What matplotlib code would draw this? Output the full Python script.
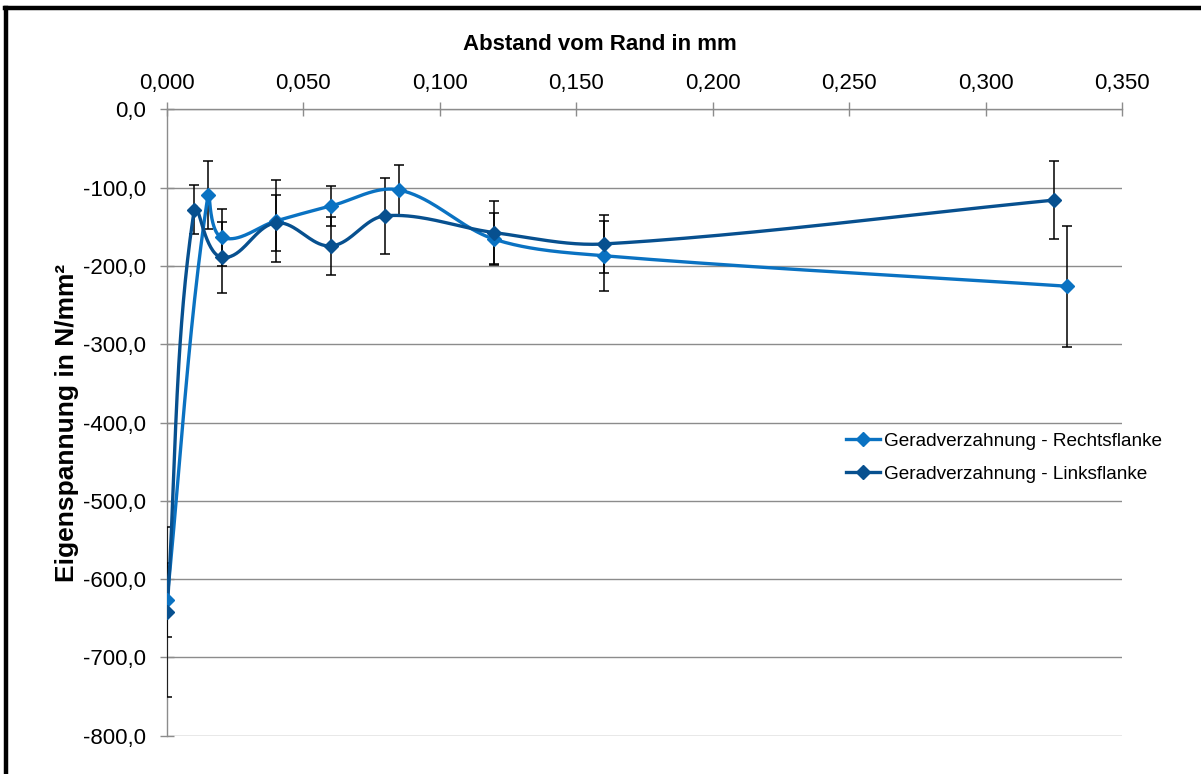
import numpy as np
import matplotlib
matplotlib.use("Agg")
import matplotlib.pyplot as plt
from matplotlib.lines import Line2D
from matplotlib.ticker import FuncFormatter, MultipleLocator

plt.rcParams['font.family'] = ['Liberation Sans', 'DejaVu Sans']

# Eigenspannung ueber Randabstand, Mittelwerte mit Streuung
x_rechts = [0.000, 0.015, 0.020, 0.040, 0.060, 0.085, 0.120, 0.160, 0.330]
y_rechts = [-627.0, -110.0, -163.5, -142.5, -123.5, -103.0, -166.0, -187.0, -226.0]
err_rechts = [47.0, 43.5, 36.0, 52.0, 25.5, 32.5, 33.0, 44.5, 77.5]

x_links = [0.000, 0.010, 0.020, 0.040, 0.060, 0.080, 0.120, 0.160, 0.325]
y_links = [-642.0, -128.0, -189.0, -145.0, -174.5, -136.0, -157.5, -172.0, -116.0]
err_links = [109.0, 31.0, 45.0, 36.0, 37.5, 48.5, 40.5, 37.0, 50.0]

labels = ["Geradverzahnung - Rechtsflanke", "Geradverzahnung - Linksflanke"]
colors = ["#0A72C2", "#07508F"]

x_min, x_max = 0.0, 0.35
y_min, y_max = -800.0, 0.0


def smooth(xs, ys, sx, sy, n=40):
    # Bezier-Glaettung, Tangente ueber Nachbarpunkte, Laenge je Segment begrenzt
    P = np.column_stack([np.asarray(xs) * sx, np.asarray(ys) * sy])
    m = len(P)
    tang = np.zeros_like(P)
    for i in range(m):
        a = P[max(i - 1, 0)]
        b = P[min(i + 1, m - 1)]
        d = b - a
        tang[i] = d / np.hypot(*d)
    t = np.linspace(0, 1, n)[:, None]
    out = []
    for i in range(m - 1):
        p1, p2 = P[i], P[i + 1]
        L = np.hypot(*(p2 - p1)) / 3.0
        c1 = p1 + tang[i] * L
        c2 = p2 - tang[i + 1] * L
        seg = ((1 - t) ** 3) * p1 + 3 * ((1 - t) ** 2) * t * c1 + 3 * (1 - t) * t ** 2 * c2 + t ** 3 * p2
        out.append(seg if i == 0 else seg[1:])
    out = np.vstack(out)
    return out[:, 0] / sx, out[:, 1] / sy


fig = plt.figure(figsize=(12.01, 7.74), dpi=100)
ax = fig.add_axes([167 / 1201, 1 - 735.7 / 774, (1122 - 167) / 1201, (735.7 - 109.3) / 774])

sx = 955.0 / (x_max - x_min)
sy = 626.4 / (y_max - y_min)

series = [(x_rechts, y_rechts, err_rechts), (x_links, y_links, err_links)]
for (xs, ys, es), lab, col in zip(series, labels, colors):
    ax.errorbar(xs, ys, yerr=es, fmt='none', ecolor='black', elinewidth=1.1,
                capsize=3.5, capthick=1.1, zorder=3)
for (xs, ys, es), lab, col in zip(series, labels, colors):
    xx, yy = smooth(xs, ys, sx, sy)
    ax.plot(xx, yy, color=col, lw=2.4, zorder=4, solid_capstyle='round')
    ax.plot(xs, ys, ls='none', marker='D', ms=7.5, color=col, zorder=5)

ax.set_xlim(x_min, x_max)
ax.set_ylim(y_min, y_max)

ax.xaxis.set_major_locator(MultipleLocator(0.05))
ax.yaxis.set_major_locator(MultipleLocator(100))
ax.xaxis.set_major_formatter(FuncFormatter(lambda v, p: f"{v:.3f}".replace('.', ',')))
ax.yaxis.set_major_formatter(FuncFormatter(lambda v, p: f"{v:.1f}".replace('.', ',')))
ax.xaxis.tick_top()
ax.xaxis.set_label_position('top')

ax.grid(axis='y', color='#8C8C8C', lw=1.0)
ax.set_axisbelow(True)
for s in ['right', 'bottom']:
    ax.spines[s].set_visible(False)
for s in ['left', 'top']:
    ax.spines[s].set_color('#8C8C8C')
    ax.spines[s].set_linewidth(1.0)
ax.tick_params(axis='both', direction='inout', length=10, width=1.0, color='#8C8C8C',
               labelsize=16)
ax.tick_params(axis='x', pad=6)
ax.tick_params(axis='y', pad=10)

ax.set_xlabel("Abstand vom Rand in mm", fontsize=16, fontweight='bold')
ax.xaxis.set_label_coords(0.4534, 1.1027)
ax.xaxis.label.set_va('center')
ax.set_ylabel("Eigenspannung in N/mm²", fontsize=19, fontweight='bold')
ax.yaxis.set_label_coords(-0.1047, 0.5)
ax.yaxis.label.set_va('center')

handles = [Line2D([0], [0], color=c, lw=2.4, marker='D', ms=7) for c in colors]
ax.legend(handles, labels, loc='center left', bbox_to_anchor=(0.7007, 0.444), frameon=False,
          fontsize=13.7, handlelength=1.8, handletextpad=0.2, labelspacing=0.8, borderpad=0)

# Rahmen um die Grafik
fig.add_artist(Line2D([6 / 1201, 6 / 1201], [0, 1 - 8 / 774], transform=fig.transFigure,
                      color='black', lw=3.2))
fig.add_artist(Line2D([4.5 / 1201, 1], [1 - 8 / 774, 1 - 8 / 774], transform=fig.transFigure,
                      color='black', lw=3.2))

fig.savefig("out.png", dpi=100, facecolor='white')
